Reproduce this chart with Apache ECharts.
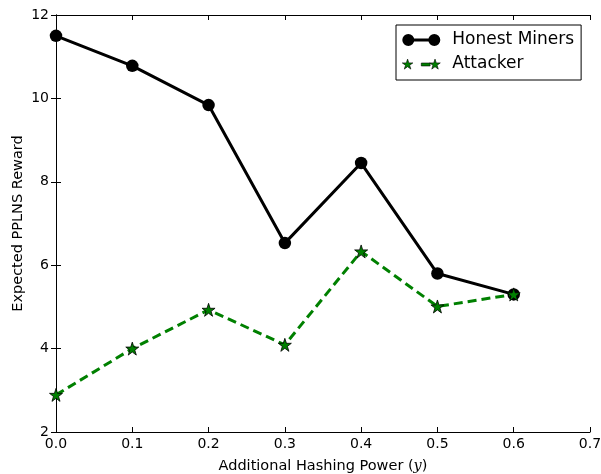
<!DOCTYPE html>
<html>
<head>
<meta charset="utf-8">
<script src="https://cdn.jsdelivr.net/npm/echarts@6/dist/echarts.min.js"></script>
<style>
  html, body { margin: 0; padding: 0; background: #fff; }
  #main { width: 601px; height: 474px; }
</style>
</head>
<body>
<div id="main"></div>
<script>
var power = [0.0, 0.1, 0.2, 0.3, 0.4, 0.5, 0.6];
var honest = [11.5, 10.78, 9.84, 6.53, 8.45, 5.8, 5.3];
var attacker = [2.89, 4.0, 4.93, 4.09, 6.33, 5.01, 5.3];

function pairs(xs, ys) {
  return xs.map(function (x, i) { return [x, ys[i]]; });
}

// star path, 100x100 box
var STAR = 'M50,0 L61.8,35.4 L99,35.4 L69.1,57.3 L80.3,92.7 L50,70.8 L19.7,92.7 L30.9,57.3 L1,35.4 L38.2,35.4 Z';

// legend icons drawn like matplotlib: two markers joined by the line (38x12 box)
function circ(cx, cy, r) {
  return 'M' + (cx - r) + ',' + cy + ' A' + r + ',' + r + ' 0 1,1 ' + (cx + r) + ',' + cy +
    ' A' + r + ',' + r + ' 0 1,1 ' + (cx - r) + ',' + cy + ' Z';
}
function star(cx, cy, s) {
  var pts = [[50,0],[61.8,35.4],[99,35.4],[69.1,57.3],[80.3,92.7],[50,70.8],[19.7,92.7],[30.9,57.3],[1,35.4],[38.2,35.4]];
  return pts.map(function (p, i) {
    return (i ? 'L' : 'M') + (cx + (p[0] - 50) * s / 100).toFixed(2) + ',' + (cy + (p[1] - 50) * s / 100).toFixed(2);
  }).join(' ') + ' Z';
}
var honestIcon = 'path://' + circ(6, 6, 6) + ' ' + circ(32, 6, 6) + ' M6,4.6 L32,4.6 L32,7.4 L6,7.4 Z';
var attackerIcon = 'path://' + star(5, 6.5, 11) + ' ' + star(33, 6.5, 11) + ' M19,5 L28,5 L28,8 L19,8 Z M0,0 L0.01,0 L0.01,0.01 Z M38,12 L37.99,12 L37.99,11.99 Z';

var chart = echarts.init(document.getElementById('main'));
var font = 'DejaVu Sans';
var tickStyle = { inside: true, length: 5, lineStyle: { color: '#000', width: 1 } };
var lineStyle = { color: '#000', width: 1 };

var option = {
  backgroundColor: '#ffffff',
  animation: false,
  textStyle: { fontFamily: font },
  grid: { left: 56, right: 11, top: 15, bottom: 42, outerBoundsMode: 'none', containLabel: false },
  legend: {
    left: 396,
    top: 25,
    orient: 'vertical',
    backgroundColor: '#fff',
    borderColor: '#000',
    borderWidth: 1,
    borderRadius: 0,
    padding: [6, 7, 7, 6],
    itemGap: 6,
    itemWidth: 38,
    itemHeight: 12,
    textStyle: { fontSize: 17, lineHeight: 18, color: '#000', fontFamily: font, padding: [0, 0, 0, 7] },
    data: [
      { name: 'Honest Miners', icon: honestIcon, itemStyle: { color: '#000', borderWidth: 0 } },
      { name: 'Attacker', icon: attackerIcon, itemStyle: { color: '#008000', borderColor: '#000', borderWidth: 0.6 } }
    ]
  },
  xAxis: [{
    type: 'value',
    min: 0, max: 0.7, interval: 0.1,
    name: 'Additional Hashing Power ({i|y})',
    nameLocation: 'middle',
    nameGap: 27,
    nameMoveOverlap: false,
    nameTextStyle: {
      fontSize: 14.5, color: '#000', fontFamily: font,
      rich: { i: { fontStyle: 'italic', fontFamily: 'DejaVu Serif', fontSize: 14.5 } }
    },
    axisLine: { lineStyle: lineStyle },
    axisTick: tickStyle,
    axisLabel: { fontSize: 14, color: '#000', margin: 5, formatter: function (v) { return v.toFixed(1); } },
    splitLine: { show: false }
  }, {
    type: 'value', position: 'top',
    min: 0, max: 0.7, interval: 0.1,
    axisLine: { show: true, lineStyle: lineStyle },
    axisTick: tickStyle,
    axisLabel: { show: false },
    splitLine: { show: false }
  }],
  yAxis: [{
    type: 'value',
    min: 2, max: 12, interval: 2,
    name: 'Expected PPLNS Reward',
    nameLocation: 'middle',
    nameGap: 30,
    nameMoveOverlap: false,
    nameTextStyle: { fontSize: 14.5, color: '#000', fontFamily: font },
    axisLine: { show: true, lineStyle: lineStyle },
    axisTick: tickStyle,
    axisLabel: { fontSize: 14, color: '#000', margin: 7 },
    splitLine: { show: false }
  }, {
    type: 'value', position: 'right',
    min: 2, max: 12, interval: 2,
    axisLine: { show: true, lineStyle: lineStyle },
    axisTick: tickStyle,
    axisLabel: { show: false },
    splitLine: { show: false }
  }],
  series: [{
    name: 'Honest Miners',
    type: 'line',
    data: pairs(power, honest),
    symbol: 'circle',
    symbolSize: 12.5,
    itemStyle: { color: '#000' },
    lineStyle: { color: '#000', width: 3 },
    z: 2
  }, {
    name: 'Attacker',
    type: 'line',
    data: pairs(power, attacker),
    symbol: 'path://' + STAR,
    symbolSize: 13,
    itemStyle: { color: '#008000', borderColor: '#000', borderWidth: 0.8 },
    lineStyle: { color: '#008000', width: 3, type: [9, 5] },
    z: 3
  }]
};
chart.setOption(option);
</script>
</body>
</html>
